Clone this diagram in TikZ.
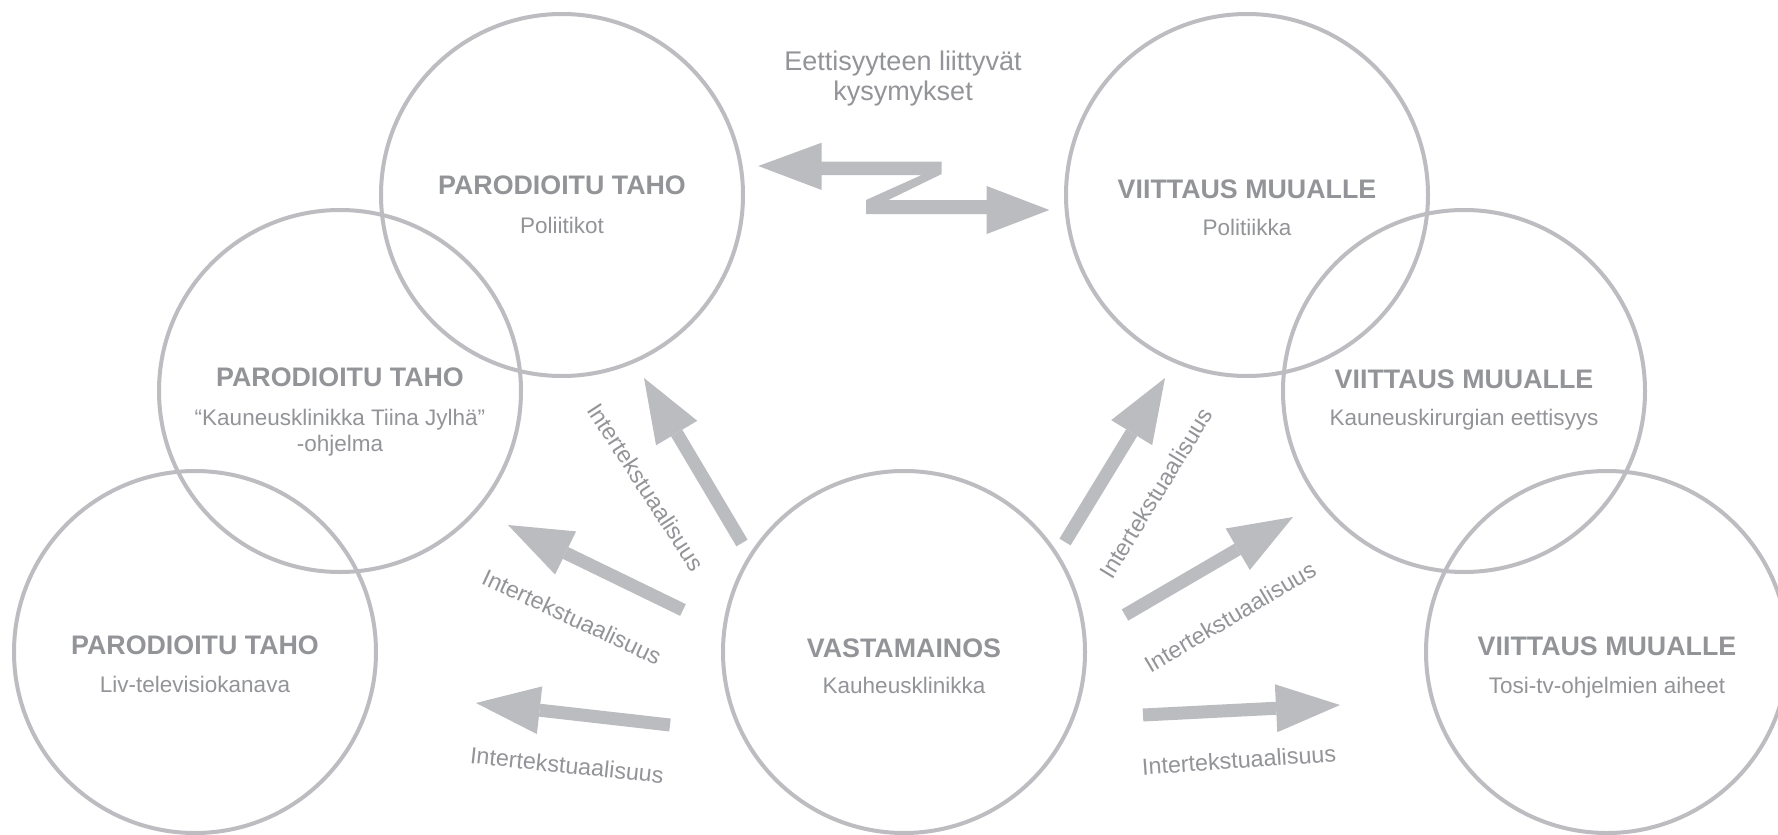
\documentclass[tikz,border=0pt]{standalone}
\usepackage{fontspec}
\setmainfont{Liberation Sans}
\usetikzlibrary{arrows.meta}
\definecolor{linegray}{RGB}{189,189,193}
\definecolor{arrowgray}{RGB}{187,188,192}
\definecolor{textgray}{RGB}{147,148,152}
\begin{document}
\begin{tikzpicture}[x=1pt,y=-1pt,
  circ/.style={circle,draw=linegray,line width=4pt,minimum size=362pt,inner sep=0pt},
  ttl/.style={text=textgray,font=\fontsize{26.8}{30}\selectfont\bfseries,anchor=base,inner sep=0pt},
  sub/.style={text=textgray,font=\fontsize{22.5}{26}\selectfont,anchor=base,inner sep=0pt},
  lbl/.style={text=textgray,font=\fontsize{23.3}{26}\selectfont,inner sep=0pt},
  top/.style={text=textgray,font=\fontsize{27}{30}\selectfont,anchor=base,inner sep=0pt},
  bigarrow/.style={draw=arrowgray,line width=13pt,-{Triangle[length=64pt,width=48pt,line width=0pt]}}]
\fill[white] (0,0) rectangle (1778,835);
\useasboundingbox (0,0) rectangle (1778,835);

% circles
\node[circ] (tl) at (562,195) {};
\node[circ] (ml) at (340,391) {};
\node[circ] (bl) at (195,652) {};
\node[circ] (c)  at (904,652) {};
\node[circ] (tr) at (1247,195) {};
\node[circ] (mr) at (1464,391) {};
\node[circ] (br) at (1607,652) {};

% circle texts
\node[ttl] (tlt) at (562,194) {PARODIOITU TAHO};
\node[sub] (tls) at (562,233) {Poliitikot};
\node[ttl] (mlt) at (340,386) {PARODIOITU TAHO};
\node[sub] (mls1) at (340,425) {“Kauneusklinikka Tiina Jylhä”};
\node[sub] (mls2) at (340,451) {-ohjelma};
\node[ttl] (blt) at (195,654) {PARODIOITU TAHO};
\node[sub] (bls) at (195,692) {Liv-televisiokanava};
\node[ttl] (ct) at (904,657) {VASTAMAINOS};
\node[sub] (cs) at (904,693) {Kauheusklinikka};
\node[ttl] (trt) at (1247,198) {VIITTAUS MUUALLE};
\node[sub] (trs) at (1247,235) {Politiikka};
\node[ttl] (mrt) at (1464,388) {VIITTAUS MUUALLE};
\node[sub] (mrs) at (1464,425) {Kauneuskirurgian eettisyys};
\node[ttl] (brt) at (1607,655) {VIITTAUS MUUALLE};
\node[sub] (brs) at (1607,693) {Tosi-tv-ohjelmien aiheet};

% top label
\node[top] (q1) at (903,70) {Eettisyyteen liittyvät};
\node[top] (q2) at (903,100) {kysymykset};

% Z double arrow between tl and tr
\fill[arrowgray] (758.3,166) -- (821.7,142.7) -- (821.7,161.7) -- (941.7,161.7)
  -- (941.7,174) -- (888.3,200) -- (986.7,200) -- (986.7,186) -- (1049.3,210)
  -- (986.7,234) -- (986.7,214) -- (866,214) -- (866,200) -- (921.7,175)
  -- (821.7,175) -- (821.7,190) -- cycle;

% arrow end coordinates
\coordinate (aS) at (742,543);  \coordinate (aE) at (644,378);
\coordinate (bS) at (683,610);  \coordinate (bE) at (508,525);
\coordinate (cS) at (670,725);  \coordinate (cE) at (476,703);
\coordinate (dS) at (1065,542); \coordinate (dE) at (1165,378);
\coordinate (eS) at (1125,615); \coordinate (eE) at (1293,517);
\coordinate (fS) at (1143,715); \coordinate (fE) at (1340,705);

\draw[bigarrow] (aS) -- (aE);
\draw[bigarrow] (bS) -- (bE);
\draw[bigarrow] (cS) -- (cE);
\draw[bigarrow] (dS) -- (dE);
\draw[bigarrow] (eS) -- (eE);
\draw[bigarrow] (fS) -- (fE);

% labels
\node[lbl,rotate=-57] (la) at (646,487) {Intertekstuaalisuus};
\node[lbl,rotate=-25] (lb) at (572,617) {Intertekstuaalisuus};
\node[lbl,rotate=-6]  (lc) at (567,765) {Intertekstuaalisuus};
\node[lbl,rotate=58.5] (ld) at (1156,493) {Intertekstuaalisuus};
\node[lbl,rotate=30.5] (le) at (1230,617) {Intertekstuaalisuus};
\node[lbl,rotate=4]   (lf) at (1239,760) {Intertekstuaalisuus};
\end{tikzpicture}
\end{document}
